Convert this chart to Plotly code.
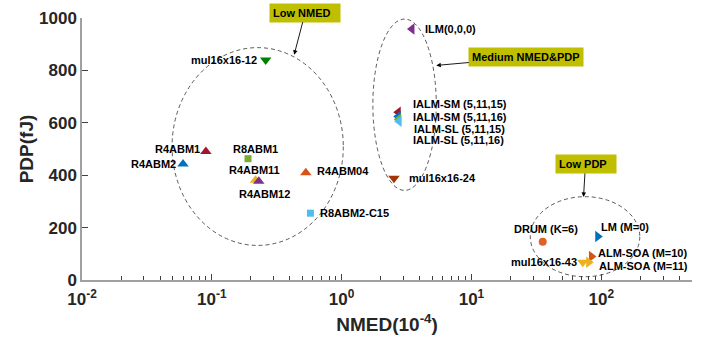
import numpy as np
import plotly.graph_objects as go

# Approximate multipliers: normalized mean error distance vs. power-delay product
names = [
    "mul16x16-12", "R4ABM1", "R4ABM2", "R8ABM1", "R4ABM11", "R4ABM12",
    "R4ABM04", "R8ABM2-C15", "ILM(0,0,0)",
    "IALM-SM (5,11,15)", "IALM-SM (5,11,16)", "IALM-SL (5,11,15)", "IALM-SL (5,11,16)",
    "mul16x16-24", "DRUM (K=6)", "LM (M=0)", "ALM-SOA (M=10)", "ALM-SOA (M=11)",
    "mul16x16-43",
]
nmed = [0.26, 0.090, 0.060, 0.19, 0.217, 0.23,
        0.53, 0.575, 3.48,
        2.73, 2.73, 2.75, 2.77,
        2.53, 35.4, 94, 84, 80,
        72]
pdp = [840, 490, 443, 463, 381, 377,
       409, 255, 958,
       640, 624, 614, 606,
       388, 146, 166, 90, 68,
       68]

# marker style per design
symbols = ["triangle-down", "triangle-up", "triangle-up", "square", "triangle-up", "triangle-up",
           "triangle-up", "square", "triangle-left",
           "triangle-left", "triangle-left", "triangle-left", "triangle-left",
           "triangle-down", "circle", "triangle-right", "triangle-right", "triangle-right",
           "triangle-down"]
colors = ["#008000", "#A2142F", "#0072BD", "#77AC30", "#EDB120", "#7E2F8E",
          "#D95319", "#4DBEEE", "#7E2F8E",
          "#A2142F", "#0072BD", "#77AC30", "#4DBEEE",
          "#A0360A", "#E0602A", "#0072BD", "#D95319", "#EDB120",
          "#EDB120"]
sizes = {"square": 7, "circle": 8}

# label placement: (xanchor, xshift px, yshift px)
label_pos = [
    ("right", -7, 0), ("right", -4, 3), ("right", -5, 0), ("center", 7, 10),
    ("center", -1, 10), ("center", 6, -13), ("left", 9, 2), ("left", 8, 0),
    ("left", 11, 0),
    ("left", 13, 8), ("left", 13, 0), ("left", 13, -10), ("left", 12, -19),
    ("left", 13, 0), ("center", 3, 13), ("left", 1, 10), ("left", 5, 3),
    ("left", 8, -4), ("right", -4, 0),
]

group_labels = ["Low NMED&nbsp;&nbsp;", "Medium NMED&PDP", "Low PDP&nbsp;&nbsp;"]
# ellipse bounds (x0, x1, y0, y1) in data units
group_bounds = [(0.0494, 1.03, 132, 887), (1.74, 5.36, 342, 996), (28.4, 198, 12.5, 318)]
# arrow tip in data units and box offset in px
group_arrows = [((0.431, 860), (11, -42)), ((5.36, 819), (90, -8)), ((73, 317), (2, -33))]

x_ticks = [0.01, 0.1, 1, 10, 100]
x_tick_text = ["10<sup>-2</sup>", "10<sup>-1</sup>", "10<sup>0</sup>", "10<sup>1</sup>", "10<sup>2</sup>"]
y_ticks = [0, 200, 400, 600, 800, 1000]

minor_vals = [m * 10.0 ** e for e in range(-2, 3) for m in range(2, 10) if m * 10.0 ** e < 500]

fig = go.Figure()
for n, x, y, s, c in zip(names, nmed, pdp, symbols, colors):
    fig.add_trace(go.Scatter(
        x=[x], y=[y], mode="markers", name=n,
        marker=dict(symbol=s, color=c, size=sizes.get(s, 10), line=dict(width=0)),
        showlegend=False, cliponaxis=False,
    ))

label_font = dict(family="Liberation Sans, Arial", size=11, color="#000000")
annotations = []
for n, x, y, (xa, dx, dy) in zip(names, nmed, pdp, label_pos):
    annotations.append(dict(
        x=np.log10(x), y=y, xref="x", yref="y", text=f"<b>{n}</b>",
        showarrow=False, xanchor=xa, yanchor="middle", xshift=dx, yshift=dy,
        font=label_font,
    ))

shapes = []
for (x0, x1, y0, y1) in group_bounds:
    shapes.append(dict(type="circle", xref="x", yref="y", x0=x0, x1=x1, y0=y0, y1=y1,
                       line=dict(color="#303030", width=0.8, dash="4px,3px")))

for text, ((tx, ty), (ax, ay)) in zip(group_labels, group_arrows):
    annotations.append(dict(
        x=np.log10(tx), y=ty, xref="x", yref="y", text=f"<b>{text}</b>",
        showarrow=True, ax=ax, ay=ay, arrowhead=2, arrowsize=1, arrowwidth=0.9,
        arrowcolor="#000000", bgcolor="#BFBF00", borderpad=3,
        font=label_font,
    ))

fig.update_layout(
    width=701, height=344,
    margin=dict(l=82, r=9, t=15, b=64),
    plot_bgcolor="white", paper_bgcolor="white",
    shapes=shapes, annotations=annotations,
    font=dict(family="Liberation Sans, Arial", color="#262626"),
)
fig.update_xaxes(
    type="log", range=[-2, np.log10(500)],
    tickmode="array", tickvals=x_ticks, ticktext=[f"<b>{t}</b>" for t in x_tick_text],
    tickfont=dict(size=17, family="Liberation Sans, Arial", color="#262626"),
    ticks="inside", ticklen=6, tickwidth=1, tickcolor="#404040",
    ticklabelstandoff=3,
    minor=dict(tickmode="array", tickvals=minor_vals, ticks="inside", ticklen=4,
               tickwidth=1, tickcolor="#404040", showgrid=False),
    showline=True, linecolor="#A0A0A0", linewidth=1.5, mirror=False,
    showgrid=False, zeroline=False,
    title=dict(text="<b>NMED(10<sup>-4</sup>)</b>", font=dict(size=19, color="#262626"), standoff=10),
)
fig.update_yaxes(
    range=[0, 1000], tickvals=y_ticks,
    ticktext=[f"<b>{v}</b>" for v in y_ticks],
    tickfont=dict(size=17, family="Liberation Sans, Arial", color="#262626"),
    ticks="inside", ticklen=6, tickwidth=1, tickcolor="#404040",
    showline=True, linecolor="#A0A0A0", linewidth=1.5, mirror=False,
    showgrid=False, zeroline=False,
    title=dict(text="<b>PDP(fJ)</b>", font=dict(size=19, color="#262626"), standoff=0),
)

fig.write_html("out.html")
